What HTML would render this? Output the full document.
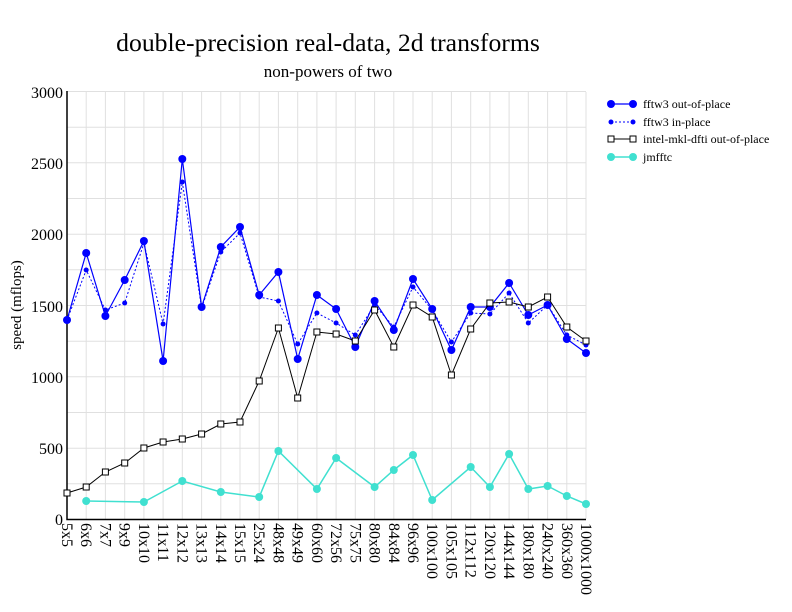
<!DOCTYPE html>
<html><head><meta charset="utf-8"><style>body{margin:0;background:#fff}svg{display:block}</style></head><body>
<svg width="792" height="612" xmlns="http://www.w3.org/2000/svg" font-family="Liberation Serif, serif">
<rect width="792" height="612" fill="#fff"/>
<text x="328" y="51" font-size="25.7" text-anchor="middle">double-precision real-data, 2d transforms</text>
<text x="328" y="77" font-size="17" text-anchor="middle">non-powers of two</text>
<g stroke="#e0e0e0" stroke-width="1">
<path d="M67 91.5H586M67 127.2H586M67 162.8H586M67 198.5H586M67 234.2H586M67 269.8H586M67 305.5H586M67 341.2H586M67 376.8H586M67 412.5H586M67 448.2H586M67 483.8H586"/>
<path d="M86.2 92V519M105.4 92V519M124.7 92V519M143.9 92V519M163.1 92V519M182.3 92V519M201.6 92V519M220.8 92V519M240 92V519M259.2 92V519M278.4 92V519M297.7 92V519M316.9 92V519M336.1 92V519M355.3 92V519M374.6 92V519M393.8 92V519M413 92V519M432.2 92V519M451.4 92V519M470.7 92V519M489.9 92V519M509.1 92V519M528.3 92V519M547.6 92V519M566.8 92V519M586 92V519"/>
</g>
<path d="M67 91V519.5H586" fill="none" stroke="#000" stroke-width="1.5"/>
<g font-size="16" text-anchor="end">
<text x="63" y="98">3000</text><text x="63" y="169">2500</text><text x="63" y="240">2000</text><text x="63" y="312">1500</text><text x="63" y="383">1000</text><text x="63" y="454">500</text><text x="63" y="525">0</text>
</g>
<text transform="translate(21 305) rotate(-90)" font-size="15" text-anchor="middle">speed (mflops)</text>
<g font-size="16">
<text transform="translate(62 523) rotate(90)">5x5</text>
<text transform="translate(81.2 523) rotate(90)">6x6</text>
<text transform="translate(100.4 523) rotate(90)">7x7</text>
<text transform="translate(119.7 523) rotate(90)">9x9</text>
<text transform="translate(138.9 523) rotate(90)">10x10</text>
<text transform="translate(158.1 523) rotate(90)">11x11</text>
<text transform="translate(177.3 523) rotate(90)">12x12</text>
<text transform="translate(196.6 523) rotate(90)">13x13</text>
<text transform="translate(215.8 523) rotate(90)">14x14</text>
<text transform="translate(235 523) rotate(90)">15x15</text>
<text transform="translate(254.2 523) rotate(90)">25x24</text>
<text transform="translate(273.4 523) rotate(90)">48x48</text>
<text transform="translate(292.7 523) rotate(90)">49x49</text>
<text transform="translate(311.9 523) rotate(90)">60x60</text>
<text transform="translate(331.1 523) rotate(90)">72x56</text>
<text transform="translate(350.3 523) rotate(90)">75x75</text>
<text transform="translate(369.6 523) rotate(90)">80x80</text>
<text transform="translate(388.8 523) rotate(90)">84x84</text>
<text transform="translate(408 523) rotate(90)">96x96</text>
<text transform="translate(427.2 523) rotate(90)">100x100</text>
<text transform="translate(446.4 523) rotate(90)">105x105</text>
<text transform="translate(465.7 523) rotate(90)">112x112</text>
<text transform="translate(484.9 523) rotate(90)">120x120</text>
<text transform="translate(504.1 523) rotate(90)">144x144</text>
<text transform="translate(523.3 523) rotate(90)">180x180</text>
<text transform="translate(542.6 523) rotate(90)">240x240</text>
<text transform="translate(561.8 523) rotate(90)">360x360</text>
<text transform="translate(581 523) rotate(90)">1000x1000</text>
</g>
<polyline fill="none" stroke="#0000ff" stroke-width="1" stroke-dasharray="2,2" points="67,320 86.2,270 105.4,310 124.7,303 143.9,243 163.1,324 182.3,182 201.6,308 220.8,252 240,233 259.2,297 278.4,301 297.7,344 316.9,313 336.1,323 355.3,335 374.6,305 393.8,327 413,287 432.2,310 451.4,342 470.7,313 489.9,314 509.1,293 528.3,323 547.6,305 566.8,335 586,345"/>
<g fill="#0000ff">
<circle cx="67" cy="320" r="2.5"/><circle cx="86.2" cy="270" r="2.5"/><circle cx="105.4" cy="310" r="2.5"/><circle cx="124.7" cy="303" r="2.5"/><circle cx="143.9" cy="243" r="2.5"/><circle cx="163.1" cy="324" r="2.5"/><circle cx="182.3" cy="182" r="2.5"/><circle cx="201.6" cy="308" r="2.5"/><circle cx="220.8" cy="252" r="2.5"/><circle cx="240" cy="233" r="2.5"/><circle cx="259.2" cy="297" r="2.5"/><circle cx="278.4" cy="301" r="2.5"/><circle cx="297.7" cy="344" r="2.5"/><circle cx="316.9" cy="313" r="2.5"/><circle cx="336.1" cy="323" r="2.5"/><circle cx="355.3" cy="335" r="2.5"/><circle cx="374.6" cy="305" r="2.5"/><circle cx="393.8" cy="327" r="2.5"/><circle cx="413" cy="287" r="2.5"/><circle cx="432.2" cy="310" r="2.5"/><circle cx="451.4" cy="342" r="2.5"/><circle cx="470.7" cy="313" r="2.5"/><circle cx="489.9" cy="314" r="2.5"/><circle cx="509.1" cy="293" r="2.5"/><circle cx="528.3" cy="323" r="2.5"/><circle cx="547.6" cy="305" r="2.5"/><circle cx="566.8" cy="335" r="2.5"/><circle cx="586" cy="345" r="2.5"/>
</g>
<polyline fill="none" stroke="#0000ff" stroke-width="1.2" points="67,320 86.2,253 105.4,316 124.7,280 143.9,241 163.1,361 182.3,159 201.6,307 220.8,247 240,227 259.2,295 278.4,272 297.7,359 316.9,295 336.1,309 355.3,347 374.6,301 393.8,330 413,279 432.2,309 451.4,350 470.7,307 489.9,307 509.1,283 528.3,315 547.6,305 566.8,339 586,353"/>
<g fill="#0000ff">
<circle cx="67" cy="320" r="4"/><circle cx="86.2" cy="253" r="4"/><circle cx="105.4" cy="316" r="4"/><circle cx="124.7" cy="280" r="4"/><circle cx="143.9" cy="241" r="4"/><circle cx="163.1" cy="361" r="4"/><circle cx="182.3" cy="159" r="4"/><circle cx="201.6" cy="307" r="4"/><circle cx="220.8" cy="247" r="4"/><circle cx="240" cy="227" r="4"/><circle cx="259.2" cy="295" r="4"/><circle cx="278.4" cy="272" r="4"/><circle cx="297.7" cy="359" r="4"/><circle cx="316.9" cy="295" r="4"/><circle cx="336.1" cy="309" r="4"/><circle cx="355.3" cy="347" r="4"/><circle cx="374.6" cy="301" r="4"/><circle cx="393.8" cy="330" r="4"/><circle cx="413" cy="279" r="4"/><circle cx="432.2" cy="309" r="4"/><circle cx="451.4" cy="350" r="4"/><circle cx="470.7" cy="307" r="4"/><circle cx="489.9" cy="307" r="4"/><circle cx="509.1" cy="283" r="4"/><circle cx="528.3" cy="315" r="4"/><circle cx="547.6" cy="305" r="4"/><circle cx="566.8" cy="339" r="4"/><circle cx="586" cy="353" r="4"/>
</g>
<polyline fill="none" stroke="#000" stroke-width="1" points="67,493 86.2,487 105.4,472 124.7,463 143.9,448 163.1,442 182.3,439 201.6,434 220.8,424 240,422 259.2,381 278.4,328 297.7,398 316.9,332 336.1,334 355.3,341 374.6,310 393.8,347 413,305 432.2,317 451.4,375 470.7,329 489.9,303 509.1,302 528.3,307 547.6,297 566.8,327 586,341"/>
<g fill="#fff" stroke="#000" stroke-width="1">
<rect x="64" y="490" width="6" height="6"/><rect x="83.2" y="484" width="6" height="6"/><rect x="102.4" y="469" width="6" height="6"/><rect x="121.7" y="460" width="6" height="6"/><rect x="140.9" y="445" width="6" height="6"/><rect x="160.1" y="439" width="6" height="6"/><rect x="179.3" y="436" width="6" height="6"/><rect x="198.6" y="431" width="6" height="6"/><rect x="217.8" y="421" width="6" height="6"/><rect x="237" y="419" width="6" height="6"/><rect x="256.2" y="378" width="6" height="6"/><rect x="275.4" y="325" width="6" height="6"/><rect x="294.7" y="395" width="6" height="6"/><rect x="313.9" y="329" width="6" height="6"/><rect x="333.1" y="331" width="6" height="6"/><rect x="352.3" y="338" width="6" height="6"/><rect x="371.6" y="307" width="6" height="6"/><rect x="390.8" y="344" width="6" height="6"/><rect x="410" y="302" width="6" height="6"/><rect x="429.2" y="314" width="6" height="6"/><rect x="448.4" y="372" width="6" height="6"/><rect x="467.7" y="326" width="6" height="6"/><rect x="486.9" y="300" width="6" height="6"/><rect x="506.1" y="299" width="6" height="6"/><rect x="525.3" y="304" width="6" height="6"/><rect x="544.6" y="294" width="6" height="6"/><rect x="563.8" y="324" width="6" height="6"/><rect x="583" y="338" width="6" height="6"/>
</g>
<polyline fill="none" stroke="#40e0d0" stroke-width="1.5" points="86.2,501 143.9,502 182.3,481 220.8,492 259.2,497 278.4,451 316.9,489 336.1,458 374.6,487 393.8,470 413,455 432.2,500 470.7,467 489.9,487 509.1,454 528.3,489 547.6,486 566.8,496 586,504"/>
<g fill="#40e0d0">
<circle cx="86.2" cy="501" r="4"/><circle cx="143.9" cy="502" r="4"/><circle cx="182.3" cy="481" r="4"/><circle cx="220.8" cy="492" r="4"/><circle cx="259.2" cy="497" r="4"/><circle cx="278.4" cy="451" r="4"/><circle cx="316.9" cy="489" r="4"/><circle cx="336.1" cy="458" r="4"/><circle cx="374.6" cy="487" r="4"/><circle cx="393.8" cy="470" r="4"/><circle cx="413" cy="455" r="4"/><circle cx="432.2" cy="500" r="4"/><circle cx="470.7" cy="467" r="4"/><circle cx="489.9" cy="487" r="4"/><circle cx="509.1" cy="454" r="4"/><circle cx="528.3" cy="489" r="4"/><circle cx="547.6" cy="486" r="4"/><circle cx="566.8" cy="496" r="4"/><circle cx="586" cy="504" r="4"/>
</g>
<g font-size="12">
<line x1="611" y1="104" x2="633" y2="104" stroke="#0000ff" stroke-width="1.2"/><circle cx="611" cy="104" r="4" fill="#0000ff"/><circle cx="633" cy="104" r="4" fill="#0000ff"/>
<text x="643" y="108">fftw3 out-of-place</text>
<line x1="611" y1="122" x2="633" y2="122" stroke="#0000ff" stroke-dasharray="2,2"/><circle cx="611" cy="122" r="2.5" fill="#0000ff"/><circle cx="633" cy="122" r="2.5" fill="#0000ff"/>
<text x="643" y="126">fftw3 in-place</text>
<line x1="611" y1="139" x2="633" y2="139" stroke="#000"/><rect x="608" y="136" width="6" height="6" fill="#fff" stroke="#000"/><rect x="630" y="136" width="6" height="6" fill="#fff" stroke="#000"/>
<text x="643" y="143">intel-mkl-dfti out-of-place</text>
<line x1="611" y1="157" x2="633" y2="157" stroke="#40e0d0" stroke-width="1.5"/><circle cx="611" cy="157" r="4" fill="#40e0d0"/><circle cx="633" cy="157" r="4" fill="#40e0d0"/>
<text x="643" y="161">jmfftc</text>
</g>
</svg>
</body></html>
